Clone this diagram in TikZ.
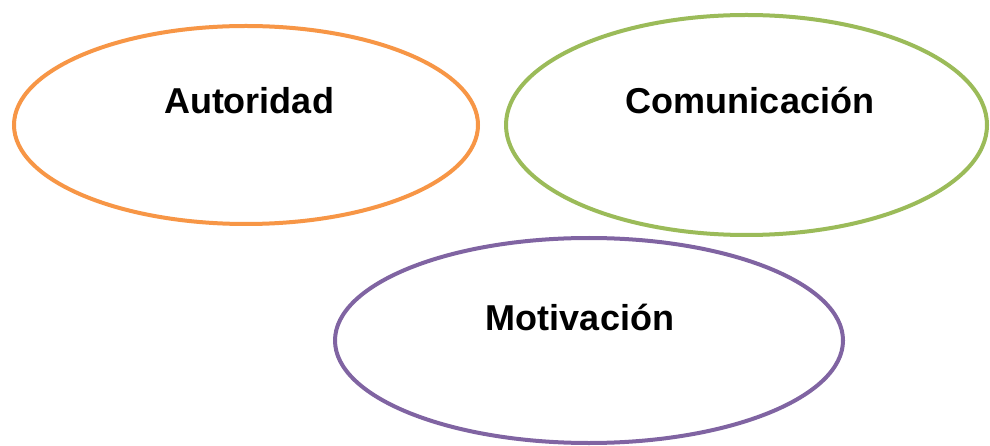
\documentclass[tikz,border=0pt]{standalone}
\usepackage{fontspec}
\setmainfont{Liberation Sans}
\usetikzlibrary{shapes.geometric}
\definecolor{ovorange}{HTML}{F79646}
\definecolor{ovgreen}{HTML}{9BBB59}
\definecolor{ovpurple}{HTML}{8064A2}
\begin{document}
\begin{tikzpicture}[x=1pt,y=-1pt,
  oval/.style={draw, ellipse, line width=4pt, inner sep=0pt},
  lbl/.style={anchor=base, font=\fontsize{36}{40}\selectfont\bfseries, inner sep=0pt}]
\useasboundingbox (0,0) rectangle (990,446);
\fill[white] (0,0) rectangle (990,446);
\node[oval, ovorange, minimum width=464pt, minimum height=198pt] (autoE) at (246,125) {};
\node[oval, ovgreen, minimum width=481pt, minimum height=220pt] (comE) at (746.5,125) {};
\node[oval, ovpurple, minimum width=508pt, minimum height=205pt] (motE) at (589,340.5) {};
\node[lbl] (auto) at (249,114) {Autoridad};
\node[lbl] (com) at (750,114) {Comunicación};
\node[lbl] (mot) at (580,330) {Motivación};
\end{tikzpicture}
\end{document}
